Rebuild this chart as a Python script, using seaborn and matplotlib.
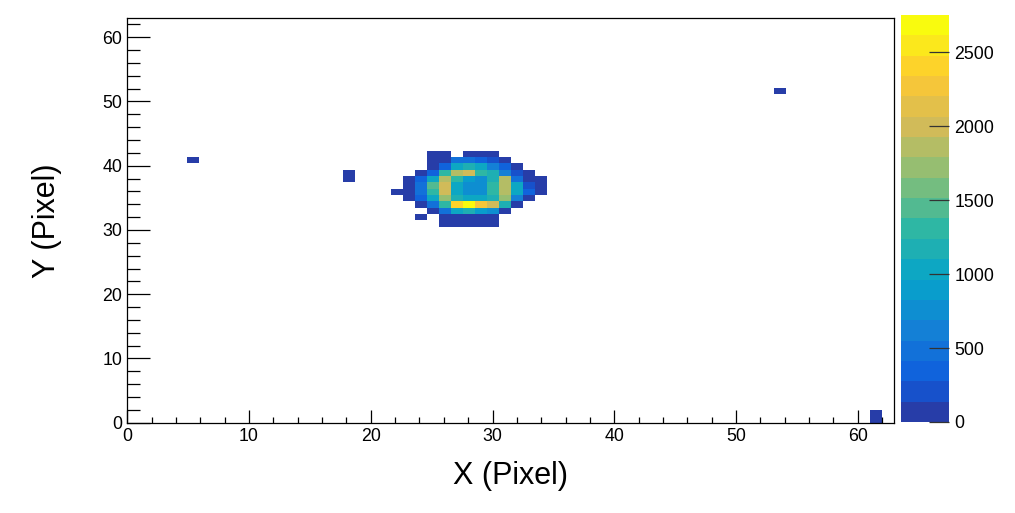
import numpy as np
import pandas as pd
import matplotlib
matplotlib.use("Agg")
import matplotlib.pyplot as plt
import seaborn as sns
from matplotlib.colors import LinearSegmentedColormap, ListedColormap
from matplotlib.ticker import MultipleLocator

# ---------------- data ----------------
n_bins = 64          # bins per axis
axis_max = 63.0      # axis range 0..63
z_max = 2754.0       # histogram maximum
cbar_ticks = [0, 500, 1000, 1500, 2000, 2500]

# main spot: x bins 22..34, y bins 42 (top) .. 31 (bottom)
blob_x_bins = list(range(22, 35))
blob_y_bins = list(range(42, 30, -1))
blob_counts = [
    [0,   0,   0,   90,  110, 0,    100,  120,  80,   0,    0,    0,   0],
    [0,   0,   0,   120, 130, 420,  450,  400,  260,  110,  0,    0,   0],
    [0,   0,   0,   130, 380, 1050, 1150, 1100, 600,  300,  100,  0,   0],
    [0,   0,   90,  350, 1250, 1900, 1950, 1350, 1200, 600, 150,  80,  0],
    [0,   80,  300, 1100, 1900, 1300, 850, 800,  1200, 1800, 550,  130, 60],
    [0,   110, 450, 1400, 2000, 1100, 750, 700,  1250, 1900, 1000, 250, 90],
    [70,  120, 500, 1300, 2000, 1100, 800, 800,  1300, 1900, 1100, 300, 80],
    [0,   90,  400, 1100, 1700, 1200, 1000, 1100, 1200, 1700, 600, 100, 0],
    [0,   0,   100, 500,  1300, 2400, 2754, 2300, 2000, 1200, 120,  0,   0],
    [0,   0,   0,   110,  500,  1100, 1200, 900,  700,  130,  0,    0,   0],
    [0,   0,   60,  0,    120,  110,  130,  100,  90,   0,    0,    0,   0],
    [0,   0,   0,   0,    80,   100,  90,   70,   60,   0,    0,    0,   0],
]

# isolated hits: (x bin, y bin, counts)
iso_x_bins = [5, 18, 18, 54, 62, 62]
iso_y_bins = [41, 38, 39, 52, 0, 1]
iso_counts = [80, 100, 110, 70, 90, 100]

tick_major = 10
tick_minor = 2

# ---------------- build table ----------------
edges = np.linspace(0, axis_max, n_bins + 1)
centers = 0.5 * (edges[:-1] + edges[1:])
rows = []
for r, yb in enumerate(blob_y_bins):
    for c, xb in enumerate(blob_x_bins):
        if blob_counts[r][c] > 0:
            rows.append((centers[xb], centers[yb], blob_counts[r][c]))
for xb, yb, w in zip(iso_x_bins, iso_y_bins, iso_counts):
    rows.append((centers[xb], centers[yb], w))
df = pd.DataFrame(rows, columns=["x", "y", "w"])

# ---------------- palette (ROOT kBird, 20 contours) ----------------
stops = [0.0, 0.125, 0.25, 0.375, 0.5, 0.625, 0.75, 0.875, 1.0]
red = [0.2082, 0.0592, 0.0780, 0.0232, 0.1802, 0.5301, 0.8186, 0.9956, 0.9764]
green = [0.1664, 0.3599, 0.5041, 0.6419, 0.7178, 0.7492, 0.7328, 0.7862, 0.9832]
blue = [0.5293, 0.8684, 0.8385, 0.7914, 0.6425, 0.4662, 0.3499, 0.1968, 0.0539]
bird = LinearSegmentedColormap.from_list(
    "bird", list(zip(stops, zip(red, green, blue))), N=255)
n_levels = 20
cmap = ListedColormap([bird(int((i + 0.99) * 255 / n_levels)) for i in range(n_levels)])

# ---------------- plot ----------------
sns.set_style("white")
plt.rcParams["font.family"] = ["Liberation Sans", "DejaVu Sans"]
plt.rcParams["text.color"] = "black"
plt.rcParams["axes.labelcolor"] = "black"
plt.rcParams["xtick.color"] = "black"
plt.rcParams["ytick.color"] = "black"
plt.rcParams["axes.axisbelow"] = False

fig = plt.figure(figsize=(10.15, 5.13), dpi=100)
ax = fig.add_axes([0.1254, 0.176, 0.7557, 0.789])
cax = fig.add_axes([0.8877, 0.1774, 0.0473, 0.7936])

sns.histplot(data=df, x="x", y="y", weights="w", bins=(edges, edges),
             cmap=cmap, vmin=0, vmax=z_max, cbar=True, cbar_ax=cax,
             cbar_kws={"ticks": cbar_ticks}, ax=ax)

ax.set_axisbelow(False)
ax.set_xlim(0, axis_max)
ax.set_ylim(0, axis_max)
for a in (ax.xaxis, ax.yaxis):
    a.set_major_locator(MultipleLocator(tick_major))
    a.set_minor_locator(MultipleLocator(tick_minor))
ax.tick_params(axis="both", which="both", direction="in", labelsize=12.8,
               color="black", labelcolor="black", width=0.9,
               bottom=True, left=True, top=False, right=False)
ax.tick_params(axis="x", which="major", length=9.1, pad=3.5)
ax.tick_params(axis="x", which="minor", length=4.6)
ax.tick_params(axis="y", which="major", length=16.3, pad=3.5)
ax.tick_params(axis="y", which="minor", length=9.1)
for s in ax.spines.values():
    s.set_visible(True)
    s.set_color("black")
    s.set_linewidth(0.9)

ax.set_xlabel("X (Pixel)", fontsize=22, labelpad=12, color="black")
ax.set_ylabel("Y (Pixel)", fontsize=22, labelpad=29, color="black")

cax.set_axisbelow(False)
cax.tick_params(axis="y", which="major", direction="in", length=14.4, width=0.9,
                labelsize=12.8, pad=4, right=True, left=False,
                labelright=True, labelleft=False, color="#333333",
                labelcolor="black")
cax.yaxis.set_minor_locator(plt.NullLocator())
for s in cax.spines.values():
    s.set_visible(False)
cax.set_ylim(0, z_max)

fig.savefig("out.png", dpi=100, facecolor="white")
